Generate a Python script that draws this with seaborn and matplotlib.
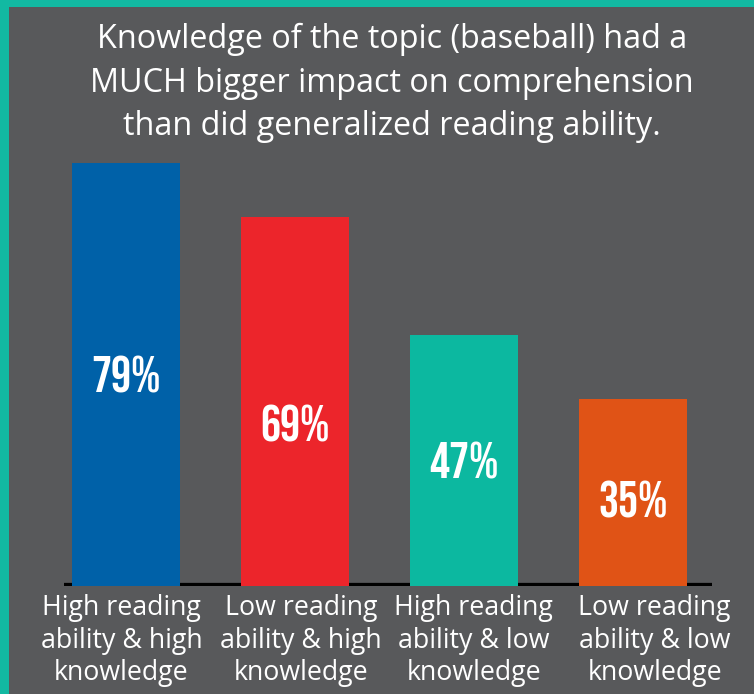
import matplotlib
matplotlib.use('Agg')
import matplotlib.pyplot as plt
from matplotlib import font_manager
from matplotlib.patches import Rectangle
from matplotlib.transforms import ScaledTranslation
import seaborn as sns
import pandas as pd

# --- Data ---
groups = [
    'High reading\nability & high\nknowledge',
    'Low reading\nability & high\nknowledge',
    'High reading\nability & low\nknowledge',
    'Low reading\nability & low\nknowledge',
]
scores = [79, 69, 47, 35]
bar_colors = ['#0061a8', '#ec252b', '#0cb8a0', '#e05316']
title = ('Knowledge of the topic (baseball) had a\n'
         'MUCH bigger impact on comprehension\n'
         'than did generalized reading ability.')

# --- Layout tweaks (as in the original artwork) ---
label_frac = [0.50, 0.44, 0.50, 0.46]      # height of the % label inside each bar
tick_shift_px = [-5, 6, 10, 22]            # category labels are not centred on bars

BG = '#58595b'
TEAL = '#12b9a2'

# condensed bold face for the percentages, whichever is installed
names = {f.name for f in font_manager.fontManager.ttflist}
narrow = next((n for n in ['Bebas Neue', 'Barlow Condensed', 'Oswald',
                           'Liberation Sans Narrow'] if n in names), 'DejaVu Sans')

sns.set_style('white')
plt.rcParams['font.family'] = ['Open Sans', 'DejaVu Sans']

df = pd.DataFrame({'group': groups, 'score': scores})

fig = plt.figure(figsize=(7.54, 6.94), dpi=100, facecolor=BG)
ax = fig.add_axes([64 / 754, 1 - 586 / 694, 648 / 754, 428 / 694])
ax.set_facecolor(BG)

sns.barplot(data=df, x='group', y='score', hue='group', palette=bar_colors,
            width=0.64, saturation=1, linewidth=0, legend=False, ax=ax, zorder=2)

ax.axhline(0, color='black', linewidth=4.5, zorder=1)
ax.set_xlim(-0.37, 3.47)
ax.set_ylim(0, 80)

for i, v in enumerate(scores):
    ax.text(i, v * label_frac[i], f'{v}%', ha='center', va='center', color='white',
            fontsize=36, fontweight='bold', family=narrow, zorder=3)

for s in ax.spines.values():
    s.set_visible(False)
ax.set_yticks([])
ax.set_xlabel('')
ax.set_ylabel('')
ax.tick_params(axis='x', length=0, pad=6, labelsize=19.3, labelcolor='white')
for lbl, dx in zip(ax.get_xticklabels(), tick_shift_px):
    lbl.set_linespacing(1.2)
    lbl.set_transform(lbl.get_transform() + ScaledTranslation(dx / 100, 0, fig.dpi_scale_trans))

fig.text(392 / 754, 1 - 83 / 694, title, ha='center', va='center', color='white',
         fontsize=23.3, linespacing=1.42)

# teal frame on left and top edges
fig.patches.append(Rectangle((0, 0), 9 / 754, 1, transform=fig.transFigure,
                             facecolor=TEAL, edgecolor='none', zorder=0))
fig.patches.append(Rectangle((0, 1 - 7 / 694), 1, 7 / 694, transform=fig.transFigure,
                             facecolor=TEAL, edgecolor='none', zorder=0))

fig.savefig('out.png', dpi=100, facecolor=BG)
